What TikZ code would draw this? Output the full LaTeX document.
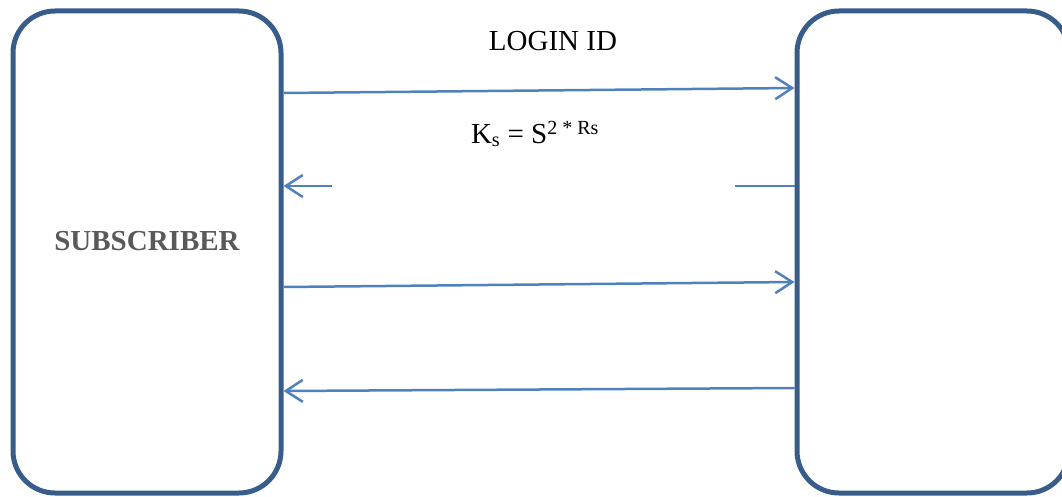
\documentclass[tikz,border=0pt]{standalone}
\usepackage{fontspec}
\setmainfont{Liberation Serif}
\usetikzlibrary{arrows.meta}
\definecolor{boxblue}{HTML}{385D8A}
\definecolor{msgblue}{HTML}{4F81BD}
\definecolor{txtgray}{HTML}{595959}
\tikzset{
  party/.style={draw=boxblue, line width=5pt, rounded corners=42pt, minimum width=268pt, minimum height=482pt, inner sep=0pt},
  msg/.style={draw=msgblue, line width=2.5pt, -{Straight Barb[length=17pt, width=22pt]}},
  msgline/.style={draw=msgblue, line width=2.5pt},
  lbl/.style={font=\fontsize{29}{32}\selectfont, inner sep=0pt}
}

\begin{document}
\begin{tikzpicture}[x=1pt, y=-1pt]%Login exchange
\useasboundingbox (0,0) rectangle (1062,497);
  \node [party] (sub) at (147,252) {};
  \node [party, minimum width=272pt] (srv) at (933,252) {};
  \node [lbl, font=\fontsize{29}{32}\selectfont\bfseries, text=txtgray] (subname) at (147,241) {SUBSCRIBER};
  \node [lbl] (login) at (553,41) {LOGIN ID};
  \node [lbl] (key) at (535,134) {K\textsubscript{s} = S\textsuperscript{\fontsize{20}{22}\selectfont 2 * Rs}};
  % messages
  \draw [msg] ([yshift=159]sub.east) -- ([yshift=164]srv.west);
  \coordinate (gapl) at (332,186);
  \coordinate (gapr) at (735,186);
  \draw [msg] (gapl) -- (sub.east |- gapl);
  \draw [msgline] (gapr) -- (srv.west |- gapr);
  \draw [msg] ([yshift=-35]sub.east) -- ([yshift=-30]srv.west);
  \draw [msg] ([yshift=-136]srv.west) -- ([yshift=-139]sub.east);
\end{tikzpicture}
\end{document}
